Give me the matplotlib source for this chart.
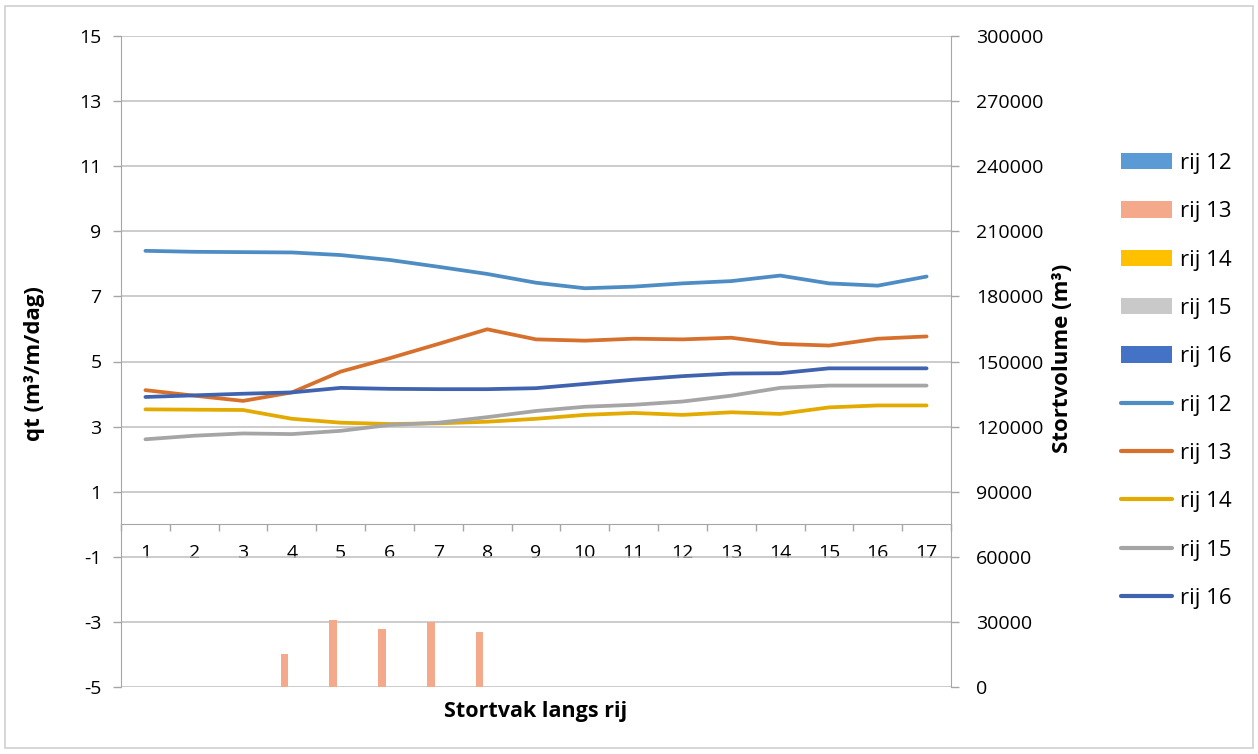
import numpy as np
import matplotlib
matplotlib.use("Agg")
import matplotlib.pyplot as plt
from matplotlib.patches import Patch, Rectangle
from matplotlib.lines import Line2D

plt.rcParams["font.family"] = ["Open Sans", "DejaVu Sans"]
plt.rcParams["axes.unicode_minus"] = False

# --- data ---
vakken = list(range(1, 18))
series = ["rij 12", "rij 13", "rij 14", "rij 15", "rij 16"]

qt_rij12 = [8.40, 8.37, 8.36, 8.35, 8.27, 8.12, 7.91, 7.69, 7.42, 7.25, 7.30, 7.40, 7.47, 7.64, 7.40, 7.33, 7.61]
qt_rij13 = [4.12, 3.95, 3.79, 4.05, 4.69, 5.10, 5.54, 5.99, 5.68, 5.64, 5.70, 5.68, 5.73, 5.54, 5.49, 5.70, 5.77]
qt_rij14 = [3.53, 3.52, 3.51, 3.24, 3.12, 3.08, 3.10, 3.15, 3.24, 3.36, 3.42, 3.36, 3.44, 3.39, 3.59, 3.65, 3.65]
qt_rij15 = [2.61, 2.72, 2.79, 2.77, 2.87, 3.05, 3.12, 3.29, 3.48, 3.61, 3.67, 3.77, 3.95, 4.19, 4.26, 4.26, 4.26]
qt_rij16 = [3.91, 3.96, 4.01, 4.05, 4.19, 4.16, 4.15, 4.15, 4.18, 4.31, 4.44, 4.55, 4.63, 4.64, 4.79, 4.79, 4.79]

vol_rij12 = [0] * 17
vol_rij13 = [0, 0, 0, 15000, 31000, 26500, 29800, 25300, 0, 0, 0, 0, 0, 0, 0, 0, 0]
vol_rij14 = [0] * 17
vol_rij15 = [0] * 17
vol_rij16 = [0] * 17

qt_all = [qt_rij12, qt_rij13, qt_rij14, qt_rij15, qt_rij16]
vol_all = [vol_rij12, vol_rij13, vol_rij14, vol_rij15, vol_rij16]

bar_cols = ["#5B9BD5", "#F4AA8A", "#FFC000", "#C9C9C9", "#4472C4"]
line_cols = ["#4E8CC4", "#D6702C", "#E3AA00", "#A5A5A5", "#3F63AE"]
AX_COL = "#A6A6A6"
GRID_COL = "#BFBFBF"

W, H = 1258, 754
fig = plt.figure(figsize=(W / 100, H / 100), dpi=100)
ax = fig.add_axes([121 / W, 1 - 687 / H, 830 / W, 651 / H])
ax2 = ax.twinx()

x = np.array(vakken)

# staven (secundaire as)
bw = 1 / 6.5
for i, (vals, col) in enumerate(zip(vol_all, bar_cols)):
    ax2.bar(x + (i - 2) * bw, vals, width=bw, color=col, linewidth=0, zorder=2)

# lijnen (primaire as)
for vals, col in zip(qt_all, line_cols):
    ax.plot(x, vals, color=col, lw=2.7, solid_capstyle="round", zorder=3)

ax.set_xlim(0.5, 17.5)
ax.set_ylim(-5, 15)
ax2.set_ylim(0, 300000)
ax.set_yticks(np.arange(-5, 16, 2))
ax2.set_yticks(np.arange(0, 300001, 30000))
ax.yaxis.grid(True, color=GRID_COL, lw=1.1)
ax.set_axisbelow(True)

# x-as op qt = 0, streepjes tussen de vakken
ax.spines["bottom"].set_position(("data", 0))
ax.set_xticks(np.arange(0.5, 17.6, 1))
ax.set_xticklabels([])
ax.set_xticks(x, minor=True)
ax.set_xticklabels([str(v) for v in vakken], minor=True, fontsize=14)
ax.tick_params(axis="x", which="major", direction="out", length=5, color=AX_COL, width=1)
ax.tick_params(axis="x", which="minor", length=0, pad=14)

ax.tick_params(axis="y", direction="out", length=6, color=AX_COL, width=1, labelsize=14, pad=8)
ax2.tick_params(axis="y", direction="out", length=6, color=AX_COL, width=1, labelsize=14, pad=12)

for sp in ["top", "right"]:
    ax.spines[sp].set_visible(False)
for sp in ["top", "left", "bottom"]:
    ax2.spines[sp].set_visible(False)
ax.spines["left"].set_color(AX_COL)
ax.spines["bottom"].set_color(AX_COL)
ax2.spines["right"].set_color(AX_COL)

# titels
fig.text(536 / W, 1 - 711 / H, "Stortvak langs rij", ha="center", va="center",
         fontsize=15.5, fontweight="bold")
fig.text(35 / W, 1 - 364 / H, "qt (m³/m/dag)", ha="center", va="center",
         rotation=90, fontsize=16, fontweight="bold")
fig.text(1063 / W, 1 - 358 / H, "Stortvolume (m³)", ha="center", va="center",
         rotation=90, fontsize=16, fontweight="bold")

# legenda
handles = [Patch(facecolor=c, edgecolor="none") for c in bar_cols]
handles += [Line2D([0], [0], color=c, lw=3, solid_capstyle="round") for c in line_cols]
labels = series + series
fig.legend(handles, labels, loc="center left", bbox_to_anchor=(1121 / W, 1 - 381 / H),
           frameon=False, fontsize=16, handlelength=2.3, handleheight=0.75,
           handletextpad=0.35, labelspacing=1.23, borderpad=0, borderaxespad=0)

# rand rond de grafiek
fig.patches.append(Rectangle((5 / W, 6 / H), 1 - 10 / W, 1 - 12 / H, transform=fig.transFigure,
                             fill=False, edgecolor="#D0D0D0", lw=1.2))

fig.savefig("out.png", dpi=100, facecolor="white")
